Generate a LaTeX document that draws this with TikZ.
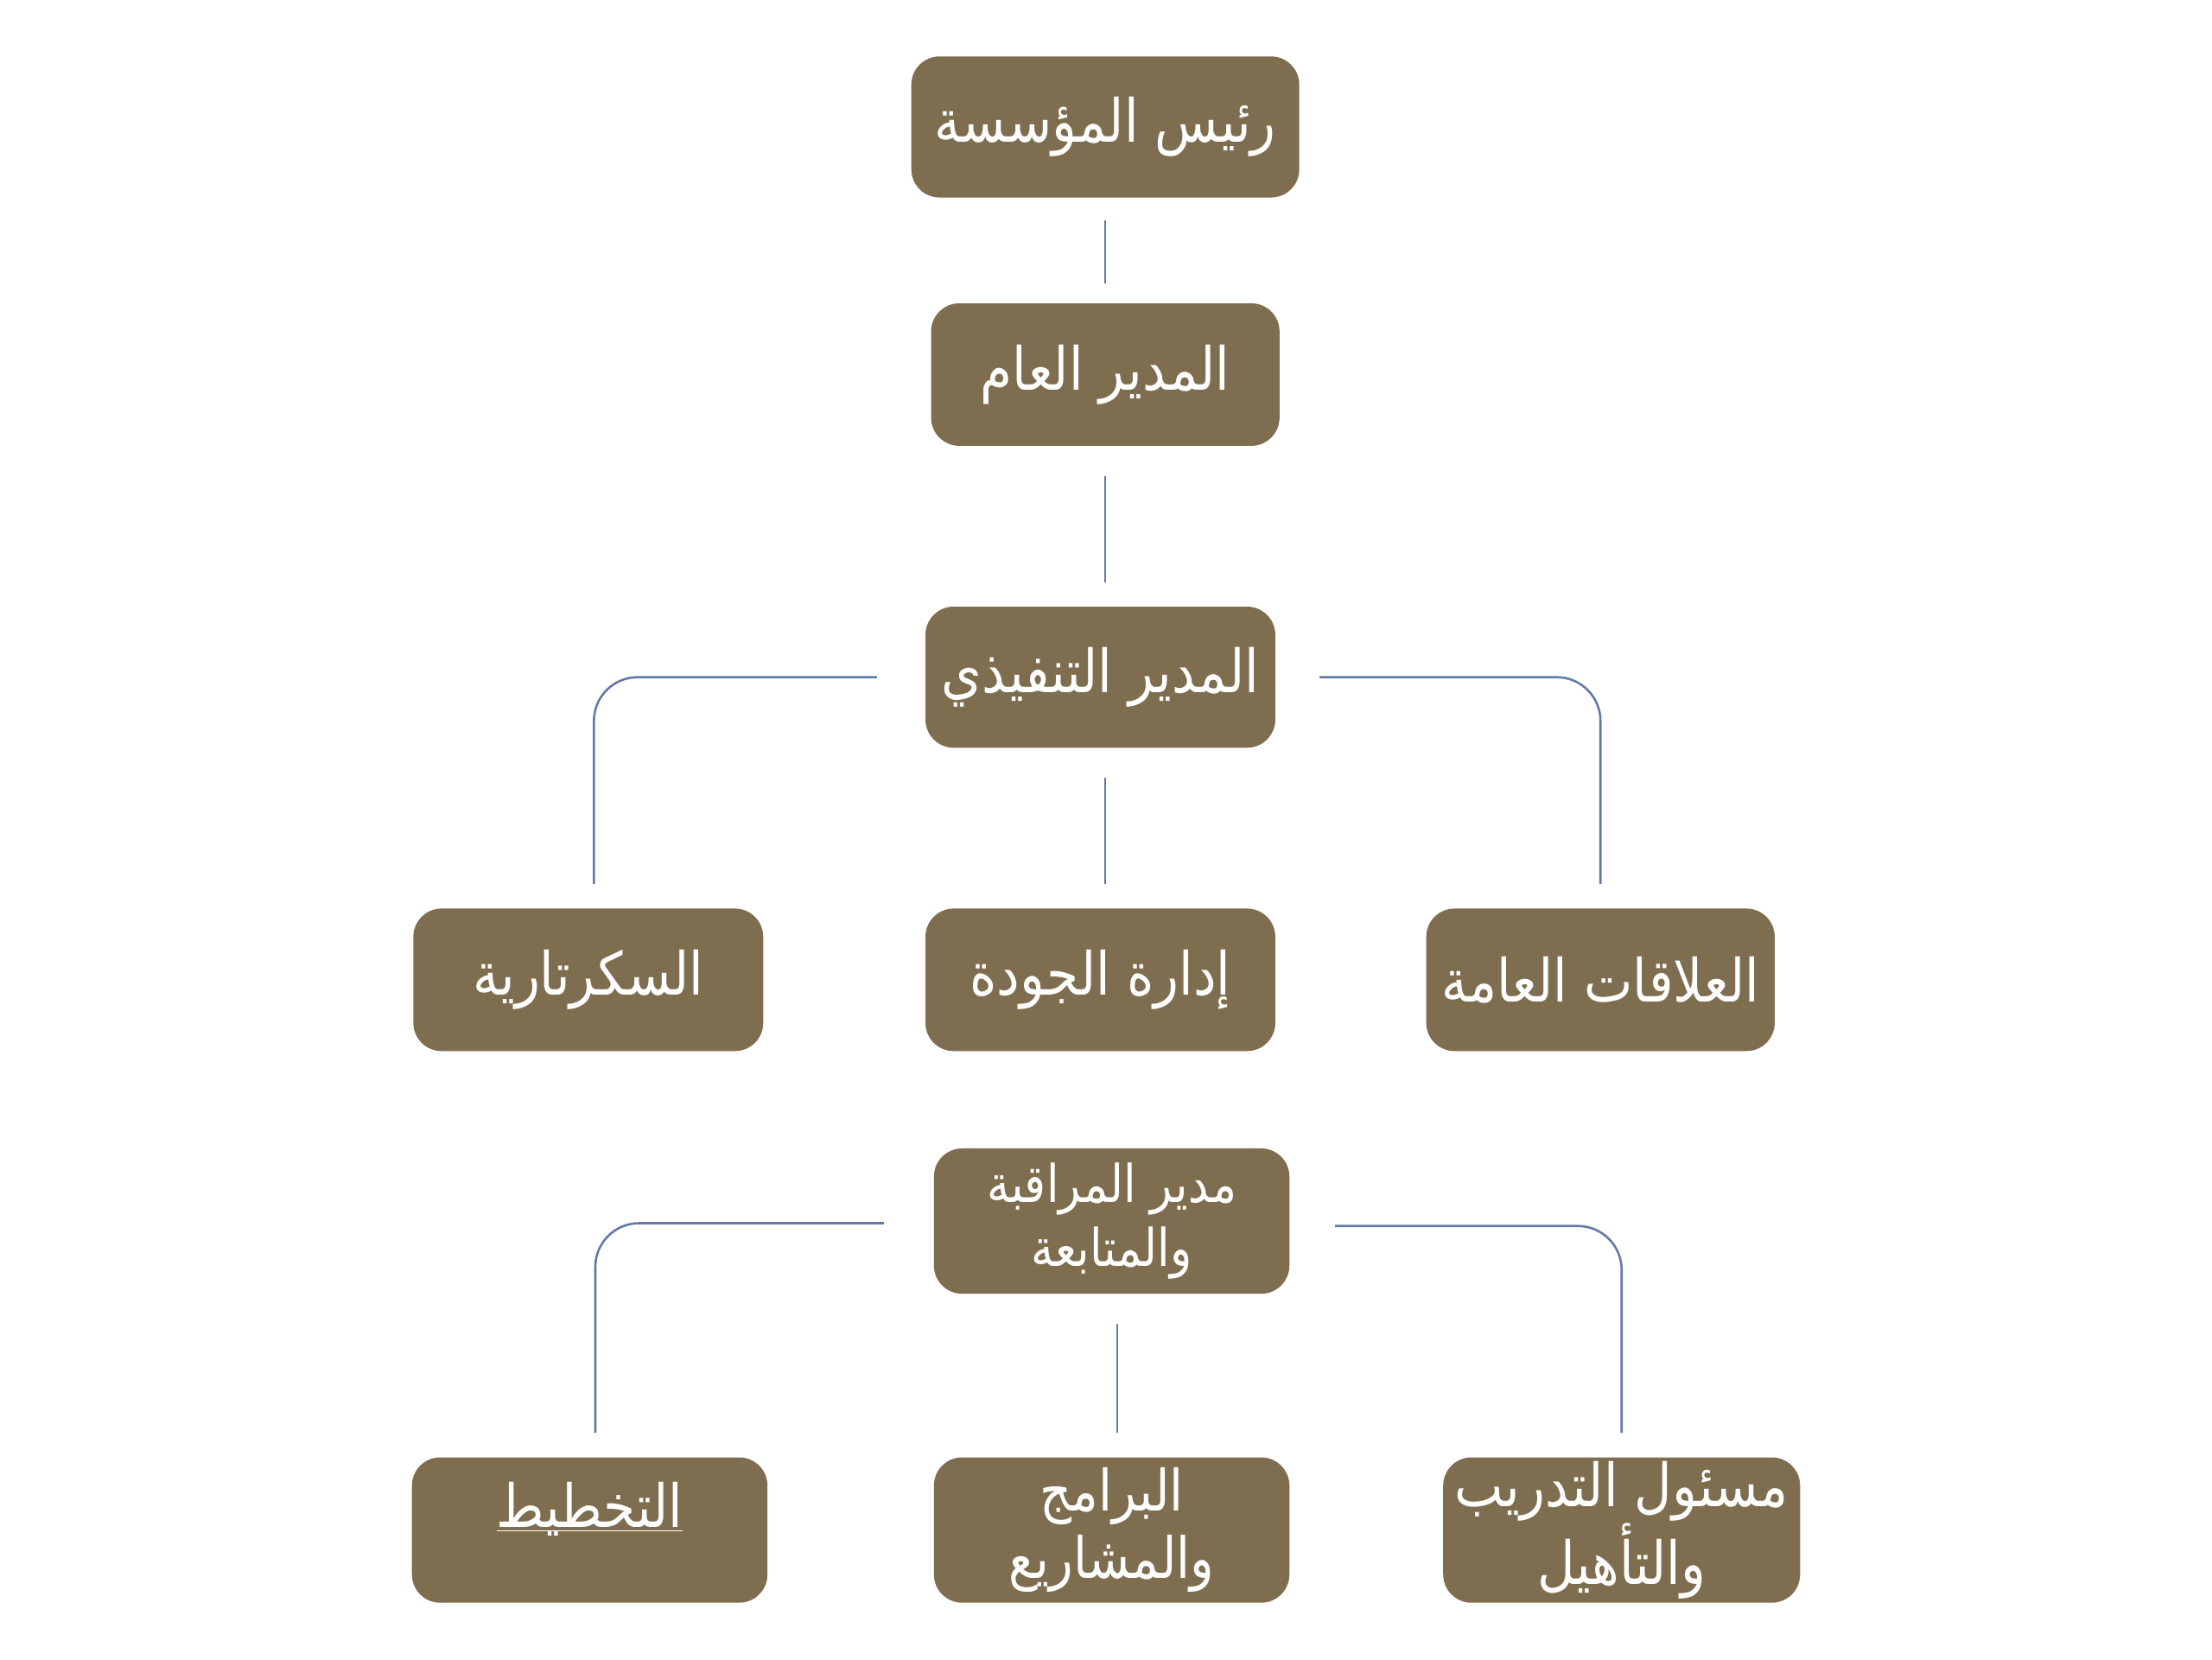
\documentclass[tikz,border=0pt]{standalone}
\usepackage{fontspec}
\newfontfamily\arabicfont[Script=Arabic,FakeStretch=0.87]{DejaVu Sans}
\TeXXeTstate=1
\definecolor{nau}{HTML}{7F6D4F}
\definecolor{xanh}{HTML}{6479A8}
\tikzset{
	o/.style={fill=nau,rounded corners=.4cm,text=white,align=center,inner sep=0pt,
		minimum width=4.96cm,minimum height=2.02cm,font=\arabicfont\fontsize{24}{30}\selectfont},
	lk/.style={draw=xanh,line width=.9pt,rounded corners=.62cm},
	dg/.style={lk,shorten <=.42cm,shorten >=.34cm}
}
\begin{document}
\begin{tikzpicture}% so do to chuc
	\useasboundingbox (0,0) rectangle (31.36,23.52);
	\def\hang#1#2{\beginR #1\endR\\\beginR #2\endR}
	\node[o,minimum width=5.5cm,minimum height=2cm] (ct) at (15.67,21.72) {\beginR رئيس المؤسسة\endR};
	\node[o,minimum width=4.94cm] (gd) at (15.67,18.21) {\beginR المدير العام\endR};
	\node[o,minimum height=2cm] (th) at (15.6,13.92) {\beginR المدير التنفيذي\endR};
	\node[o] (tk) at (8.34,9.63) {\beginR السكرتارية\endR};
	\node[o] (cl) at (15.6,9.63) {\beginR إدارة الجودة\endR};
	\node[o,minimum width=4.94cm] (qh) at (22.69,9.63) {\beginR العلاقات العامة\endR};
	\node[o,minimum width=5.04cm,minimum height=2.06cm,font=\arabicfont\fontsize{21}{25.6}\selectfont] (gs) at (15.76,6.21) {\hang{مدير المراقبة}{والمتابعة}};
	\node[o,minimum width=5.04cm,minimum height=2.06cm] (kh) at (8.36,1.83) {$\underline{\smash{\hbox{\beginR التخطيط\endR}}}$};
	\node[o,minimum width=5.04cm,minimum height=2.06cm,font=\arabicfont\fontsize{23}{27}\selectfont] (da) at (15.76,1.83) {\hang{البرامج}{والمشاريع}};
	\node[o,minimum width=5.06cm,minimum height=2.06cm,font=\arabicfont\fontsize{24}{27}\selectfont] (dt) at (22.99,1.83) {\hang{مسئول التدريب}{والتأهيل}};
	% duong noi
	\draw[lk,shorten <=.32cm,shorten >=.28cm] (ct) -- (gd);
	\draw[dg] (gd) -- (gd |- th.north);
	\draw[dg] (th.south -| gd) -- (cl.north -| gd);
	\draw[lk] ([xshift=-.68cm]th.west) -| ([xshift=.08cm,yshift=.34cm]tk.north);
	\draw[lk] ([xshift=.62cm]th.east) -| ([yshift=.34cm]qh.north);
	\draw[dg] ([xshift=.08cm]gs.south) -- ([xshift=.08cm]da.north);
	\draw[lk] ([xshift=-.7cm,yshift=-.03cm]gs.west) -| ([xshift=.08cm,yshift=.34cm]kh.north);
	\draw[lk] ([xshift=.64cm,yshift=-.07cm]gs.east) -| ([yshift=.34cm]dt.north);
\end{tikzpicture}
\end{document}
